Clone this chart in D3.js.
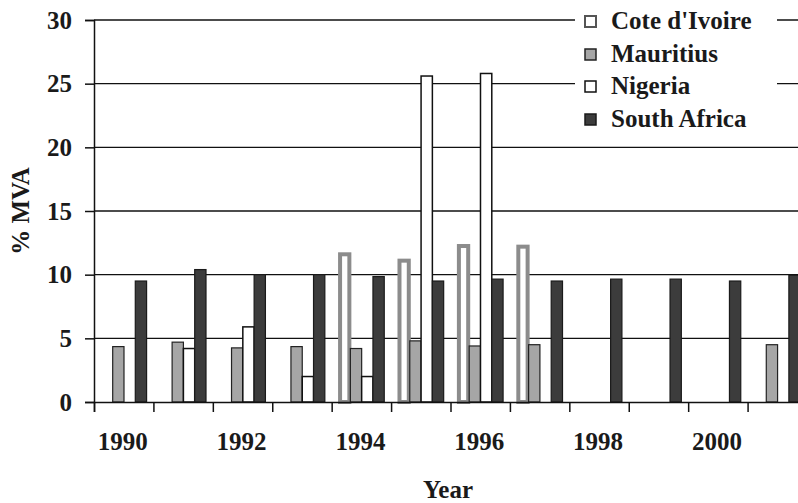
<!DOCTYPE html>
<html><head><meta charset="utf-8">
<script src="https://cdn.jsdelivr.net/npm/d3@7/dist/d3.min.js"></script>
<style>
html,body{margin:0;padding:0;background:#fff;}
</style></head>
<body>
<script>
const years = [1990,1991,1992,1993,1994,1995,1996,1997,1998,1999,2000,2001];
const seriesNames = ["Cote d'Ivoire","Mauritius","Nigeria","South Africa"];
const coteDIvoire = [null,null,null,null,11.6,11.1,12.25,12.2,null,null,null,null];
const mauritius   = [4.35,4.7,4.25,4.35,4.2,4.8,4.4,4.5,null,null,null,4.5];
const nigeria     = [null,4.2,5.9,2.0,2.0,25.6,25.8,null,null,null,null,null];
const southAfrica = [9.5,10.4,10.0,10.0,9.85,9.5,9.65,9.5,9.65,9.65,9.5,9.95];
const yTicks = [0,5,10,15,20,25,30];
const xTickLabels = [1990,1992,1994,1996,1998,2000];

const values = [coteDIvoire, mauritius, nigeria, southAfrica];
const styles = [
  {fill:"#ffffff", stroke:"#8c8c8c", sw:4},
  {fill:"#a6a6a6", stroke:"#222", sw:1.2},
  {fill:"#ffffff", stroke:"#111", sw:1.5},
  {fill:"#3c3c3c", stroke:"#1a1a1a", sw:1.2}
];
const FONT = "'Liberation Serif', 'Times New Roman', 'DejaVu Serif', serif";

const W = 798, H = 503;
const svg = d3.select("body").append("svg").attr("width", W).attr("height", H);

const mLeft = 94, mRight = 807, mTop = 20, mBottom = 402;
const x0 = d3.scaleBand().domain(years).range([mLeft, mRight]).padding(0);
const x1 = d3.scaleBand().domain(seriesNames).range([0, x0.bandwidth()]).paddingOuter(0.63).paddingInner(0).align(0.52);
const y = d3.scaleLinear().domain([0, 30]).range([mBottom, mTop]);

function txt(sel) {
  return sel.style("font-family", FONT).style("font-weight", "bold").style("font-size", "25px").attr("fill", "#1a1a1a");
}

// gridlines
svg.append("g").selectAll("line").data(yTicks.filter(d => d > 0)).join("line")
  .attr("x1", mLeft).attr("x2", W).attr("y1", d => y(d)).attr("y2", d => y(d))
  .attr("stroke", "#111").attr("stroke-width", 1.3);

// bars
const barsG = svg.append("g");
seriesNames.forEach((name, si) => {
  const st = styles[si];
  barsG.append("g").selectAll("rect")
    .data(years.map((yr, i) => ({yr, v: values[si][i]})).filter(d => d.v != null))
    .join("rect")
    .attr("x", d => x0(d.yr) + x1(name) + (si === 0 ? 1 : 0))
    .attr("width", x1.bandwidth() - (si === 0 ? 2 : 0))
    .attr("y", d => y(d.v))
    .attr("height", d => y(0) - y(d.v))
    .attr("fill", st.fill).attr("stroke", st.stroke).attr("stroke-width", st.sw);
});

// axes
const yAxis = d3.axisLeft(y).tickValues(yTicks).tickSize(9).tickPadding(13).tickFormat(d3.format("d"));
const gy = svg.append("g").attr("transform", `translate(${mLeft},0)`).call(yAxis);
gy.select(".domain").attr("stroke", "#111").attr("stroke-width", 1.5);
gy.selectAll(".tick line").attr("stroke", "#111").attr("stroke-width", 1.5);
txt(gy.selectAll("text"));

const xAxisScale = d3.scaleLinear().domain([0, years.length]).range([mLeft, mRight]);
const xAxis = d3.axisBottom(xAxisScale).tickValues(d3.range(0, years.length)).tickSize(10).tickFormat("");
const gx = svg.append("g").attr("transform", `translate(0,${mBottom})`).call(xAxis);
gx.select(".domain").attr("stroke", "#111").attr("stroke-width", 1.5);
gx.selectAll(".tick line").attr("stroke", "#111").attr("stroke-width", 1.5);

txt(svg.append("g").selectAll("text").data(xTickLabels).join("text")
  .attr("x", d => x0(d) + x0.bandwidth() / 2 - 1)
  .attr("y", 450).attr("text-anchor", "middle")
  .text(d => d));

// axis titles
txt(svg.append("text").attr("x", 448).attr("y", 498).attr("text-anchor", "middle").text("Year"));
txt(svg.append("text").attr("transform", "translate(29,211) rotate(-90)")
  .attr("text-anchor", "middle").text("% MVA"));

// legend
const lg = svg.append("g");
lg.append("rect").attr("x", 575).attr("y", 4).attr("width", 202).attr("height", 132).attr("fill", "#fff");
const rowY = [21, 54, 86, 119];
seriesNames.forEach((name, i) => {
  const st = styles[i];
  lg.append("rect").attr("x", 585).attr("y", rowY[i] - 5).attr("width", 11).attr("height", 11)
    .attr("fill", st.fill).attr("stroke", i === 0 ? "#555" : st.stroke).attr("stroke-width", i === 0 ? 2 : 1.5);
  txt(lg.append("text").attr("x", 611).attr("y", rowY[i] + 8).text(name));
});
</script>
</body></html>
